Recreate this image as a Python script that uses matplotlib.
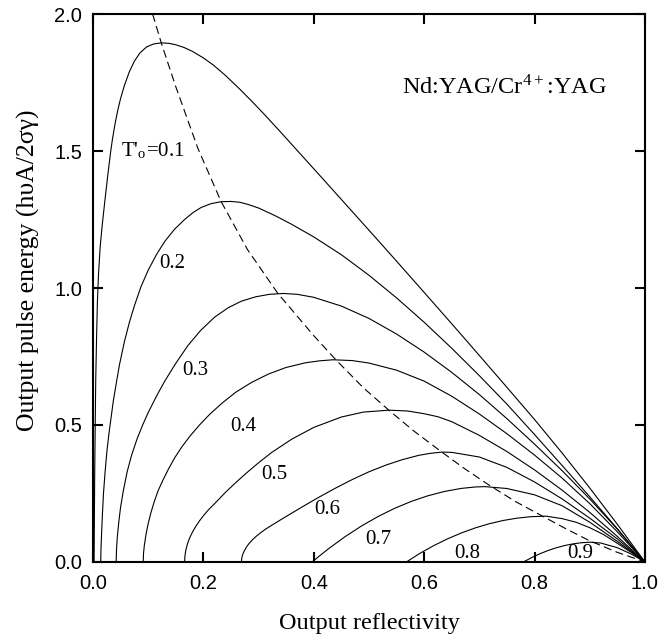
import matplotlib.pyplot as plt

# 输出反射率 R 与输出脉冲能量 (单位 hνA/2σγ)，各条曲线对应不同的 T'o
r_01 = [0.002, 0.0025, 0.003, 0.004, 0.005, 0.0065, 0.008, 0.010, 0.013, 0.017, 0.022, 0.027,
        0.032, 0.035, 0.040, 0.045, 0.050, 0.057, 0.066, 0.075, 0.085, 0.097, 0.110, 0.124,
        0.138, 0.150, 0.165, 0.180, 0.200, 0.218, 0.240, 0.266, 0.290, 0.315, 0.345, 0.375,
        0.410, 0.447, 0.500, 0.550, 0.600, 0.668, 0.742, 0.800, 0.850, 0.900, 0.950, 1.0]
e_01 = [0.0, 0.15, 0.30, 0.50, 0.67, 0.82, 0.95, 1.05, 1.15, 1.235, 1.327, 1.415,
        1.497, 1.540, 1.600, 1.650, 1.692, 1.740, 1.790, 1.828, 1.858, 1.880, 1.891, 1.895,
        1.893, 1.888, 1.878, 1.864, 1.840, 1.814, 1.776, 1.726, 1.677, 1.624, 1.558, 1.491,
        1.413, 1.330, 1.211, 1.098, 0.984, 0.828, 0.656, 0.520, 0.3975, 0.270, 0.1375, 0.0]

r_02 = [0.014, 0.0145, 0.0155, 0.017, 0.019, 0.022, 0.025, 0.029, 0.033, 0.037, 0.042, 0.048,
        0.057, 0.066, 0.075, 0.087, 0.100, 0.115, 0.130, 0.148, 0.166, 0.181, 0.196, 0.214,
        0.232, 0.250, 0.266, 0.281, 0.300, 0.330, 0.360, 0.400, 0.450, 0.500, 0.550, 0.600,
        0.650, 0.700, 0.750, 0.800, 0.850, 0.900, 0.950, 1.0]
e_02 = [0.0, 0.05, 0.10, 0.17, 0.25, 0.33, 0.40, 0.47, 0.53, 0.59, 0.65, 0.72,
        0.805, 0.875, 0.935, 1.005, 1.065, 1.122, 1.170, 1.215, 1.250, 1.275, 1.294, 1.308,
        1.315, 1.316, 1.313, 1.305, 1.292, 1.264, 1.2325, 1.1865, 1.1215, 1.0465, 0.964, 0.875,
        0.780, 0.680, 0.576, 0.465, 0.352, 0.238, 0.121, 0.0]

r_03 = [0.042, 0.0425, 0.044, 0.047, 0.050, 0.055, 0.062, 0.070, 0.080, 0.090, 0.100, 0.115,
        0.130, 0.150, 0.172, 0.195, 0.220, 0.245, 0.269, 0.295, 0.320, 0.345, 0.370, 0.400,
        0.450, 0.500, 0.550, 0.600, 0.650, 0.700, 0.750, 0.800, 0.850, 0.900, 0.950, 1.0]
e_03 = [0.0, 0.04, 0.09, 0.15, 0.20, 0.26, 0.33, 0.39, 0.45, 0.50, 0.545, 0.605,
        0.660, 0.725, 0.790, 0.845, 0.893, 0.928, 0.952, 0.968, 0.977, 0.980, 0.977, 0.966,
        0.934, 0.889, 0.832, 0.766, 0.692, 0.611, 0.523, 0.430, 0.333, 0.230, 0.120, 0.0]

r_04 = [0.091, 0.0915, 0.093, 0.096, 0.100, 0.105, 0.111, 0.118, 0.127, 0.137, 0.148, 0.161,
        0.176, 0.193, 0.212, 0.234, 0.259, 0.287, 0.318, 0.350, 0.385, 0.410, 0.435, 0.470,
        0.500, 0.550, 0.600, 0.650, 0.700, 0.750, 0.800, 0.850, 0.900, 0.950, 1.0]
e_04 = [0.0, 0.03, 0.06, 0.10, 0.14, 0.18, 0.22, 0.26, 0.30, 0.34, 0.38, 0.42,
        0.46, 0.50, 0.54, 0.58, 0.62, 0.655, 0.686, 0.710, 0.727, 0.734, 0.738, 0.735,
        0.726, 0.700, 0.660, 0.605, 0.540, 0.468, 0.390, 0.306, 0.213, 0.110, 0.0]

r_05 = [0.166, 0.1665, 0.168, 0.171, 0.175, 0.180, 0.186, 0.193, 0.201, 0.210, 0.220, 0.240,
        0.260, 0.280, 0.300, 0.324, 0.360, 0.400, 0.450, 0.490, 0.536, 0.570, 0.600, 0.625,
        0.650, 0.700, 0.750, 0.800, 0.850, 0.900, 0.950, 1.0]
e_05 = [0.0, 0.020, 0.041, 0.065, 0.087, 0.108, 0.129, 0.150, 0.171, 0.192, 0.212, 0.254,
        0.292, 0.328, 0.362, 0.400, 0.448, 0.491, 0.529, 0.547, 0.554, 0.551, 0.541, 0.530,
        0.512, 0.462, 0.403, 0.336, 0.262, 0.181, 0.093, 0.0]

r_06 = [0.269, 0.2695, 0.271, 0.274, 0.278, 0.283, 0.289, 0.296, 0.304, 0.313, 0.324, 0.350,
        0.380, 0.410, 0.440, 0.470, 0.500, 0.530, 0.560, 0.590, 0.610, 0.632, 0.650, 0.700,
        0.750, 0.800, 0.850, 0.900, 0.950, 1.0]
e_06 = [0.0, 0.013, 0.026, 0.040, 0.054, 0.068, 0.081, 0.094, 0.107, 0.120, 0.134, 0.166,
        0.202, 0.237, 0.270, 0.301, 0.329, 0.353, 0.373, 0.389, 0.396, 0.401, 0.400, 0.383,
        0.345, 0.292, 0.230, 0.160, 0.084, 0.0]

r_07 = [0.397, 0.412, 0.427, 0.457, 0.487, 0.517, 0.547, 0.577, 0.607, 0.637, 0.667, 0.692,
        0.710, 0.750, 0.800, 0.850, 0.900, 0.950, 1.0]
e_07 = [0.0, 0.0245, 0.0486, 0.0926, 0.1318, 0.1663, 0.1961, 0.2212, 0.2416, 0.2573, 0.2683, 0.2735,
        0.2749, 0.268, 0.245, 0.205, 0.145, 0.075, 0.0]

r_08 = [0.568, 0.593, 0.618, 0.643, 0.668, 0.693, 0.718, 0.743, 0.768, 0.793, 0.821, 0.850,
        0.875, 0.900, 0.925, 0.950, 0.975, 1.0]
e_08 = [0.0, 0.0321, 0.0602, 0.0848, 0.1062, 0.1244, 0.1394, 0.1512, 0.1597, 0.1651, 0.167, 0.158,
        0.145, 0.125, 0.100, 0.068, 0.035, 0.0]

r_09 = [0.780, 0.795, 0.810, 0.825, 0.840, 0.855, 0.870, 0.885, 0.900, 0.920, 0.950, 0.975, 1.0]
e_09 = [0.0, 0.016, 0.030, 0.042, 0.052, 0.060, 0.066, 0.070, 0.072, 0.069, 0.052, 0.029, 0.0]

# 各曲线极大值的连线 (虚线)
r_max = [0.108, 0.124, 0.150, 0.190, 0.232, 0.280, 0.335, 0.400, 0.440, 0.490, 0.536, 0.580,
         0.632, 0.675, 0.718, 0.765, 0.809, 0.855, 0.899, 0.950, 1.0]
e_max = [2.0, 1.893, 1.735, 1.510, 1.316, 1.140, 0.980, 0.826, 0.738, 0.6355, 0.554, 0.480,
         0.401, 0.338, 0.280, 0.221, 0.173, 0.123, 0.078, 0.035, 0.0]

curves = [(r_01, e_01), (r_02, e_02), (r_03, e_03), (r_04, e_04), (r_05, e_05),
          (r_06, e_06), (r_07, e_07), (r_08, e_08), (r_09, e_09)]
t_labels = ["T'$_\\mathregular{o}$=0.1", '0.2', '0.3', '0.4', '0.5', '0.6', '0.7', '0.8', '0.9']
x_ticks = [0.0, 0.2, 0.4, 0.6, 0.8, 1.0]
y_ticks = [0.0, 0.5, 1.0, 1.5, 2.0]

plt.rcParams['font.family'] = ['Liberation Serif', 'DejaVu Serif']
plt.rcParams['mathtext.fontset'] = 'stix'
plt.rcParams['lines.scale_dashes'] = False

fig = plt.figure(figsize=(6.69, 6.40), dpi=100)
ax = fig.add_axes([0.139, 0.122, 0.825, 0.856])

for r, e in curves:
    ax.plot(r, e, color='k', lw=0.8)
ax.plot(r_max, e_max, color='k', lw=0.8, linestyle=(0, (5.8, 3.2)))

# 曲线旁的标注位置
label_pos = [(0.05, 1.48), (0.144, 1.089), (0.185, 0.70), (0.272, 0.496), (0.328, 0.318),
             (0.425, 0.191), (0.517, 0.081), (0.678, 0.032), (0.883, 0.032)]
for (x, y), s in zip(label_pos, t_labels):
    if s.startswith('T'):
        ax.text(x, y, s, fontsize=15, ha='left', va='baseline')
    else:
        ax.text(x, y, s, fontsize=15, ha='center', va='center')

ax.text(0.931, 1.705, 'Nd:YAG/Cr$^\\mathregular{4+}$:YAG', fontsize=17.5, ha='right', va='baseline')

ax.set_xlim(0, 1.0)
ax.set_ylim(0, 2.0)
ax.set_xticks(x_ticks)
ax.set_yticks(y_ticks)
ax.set_xticklabels(['%.1f' % v for v in x_ticks], fontfamily='Liberation Sans', fontsize=14.5)
ax.set_yticklabels(['%.1f' % v for v in y_ticks], fontfamily='Liberation Sans', fontsize=14.5)
ax.tick_params(direction='in', length=7, width=1.5, top=True, right=True)
ax.tick_params(axis='x', pad=9)
ax.tick_params(axis='y', pad=8)
for sp in ax.spines.values():
    sp.set_linewidth(1.5)

ax.set_xlabel('Output reflectivity', fontsize=17.5, labelpad=14)
ax.set_ylabel('Output pulse energy (hυA/2σγ)', fontsize=18.5)
ax.yaxis.set_label_coords(-0.096, 0.533)

plt.savefig('out.png', dpi=100)
